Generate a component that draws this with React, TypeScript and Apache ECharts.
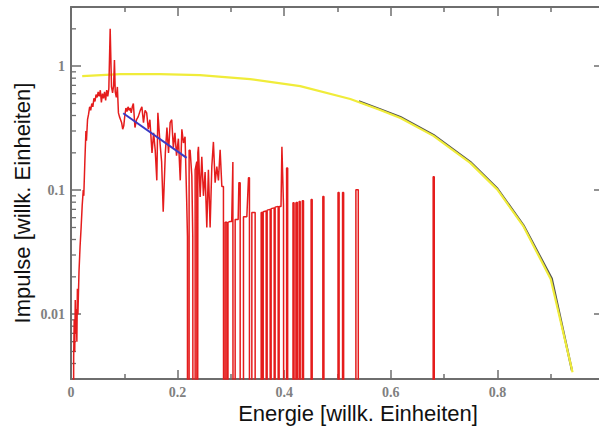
import React, { useEffect, useRef } from "react";
import * as echarts from "echarts";

// Measured spectrum (energy, counts); 0 = empty bin
const RED_RISE: [number, number][] = [
  [0.004, 0], [0.005, 0.0045], [0.006, 0.009], [0.007, 0.005], [0.008, 0.013],
  [0.009, 0.007], [0.010, 0.011], [0.011, 0.006], [0.012, 0.016], [0.013, 0.010],
  [0.015, 0.022], [0.017, 0.035], [0.019, 0.05], [0.021, 0.075], [0.023, 0.10],
  [0.024, 0.09], [0.026, 0.17], [0.028, 0.30], [0.029, 0.25], [0.031, 0.37],
  [0.033, 0.41], [0.035, 0.47], [0.037, 0.44], [0.039, 0.50], [0.041, 0.47],
  [0.043, 0.55], [0.045, 0.52], [0.047, 0.59], [0.049, 0.56], [0.051, 0.62],
  [0.053, 0.57], [0.055, 0.64], [0.057, 0.51], [0.059, 0.60], [0.061, 0.55],
  [0.063, 0.62], [0.065, 0.53], [0.067, 0.64], [0.069, 0.57], [0.071, 0.66],
  [0.0735, 2.0], [0.076, 0.68], [0.078, 0.61], [0.080, 0.70], [0.0815, 1.12],
  [0.083, 0.62], [0.085, 0.56], [0.087, 0.68], [0.089, 0.42], [0.091, 0.39],
  [0.093, 0.37], [0.095, 0.35], [0.097, 0.31], [0.099, 0.33], [0.101, 0.40],
  [0.103, 0.46], [0.105, 0.43], [0.107, 0.47], [0.109, 0.44], [0.111, 0.46],
  [0.113, 0.42], [0.115, 0.47], [0.117, 0.50], [0.120, 0.32], [0.123, 0.37],
  [0.126, 0.39], [0.130, 0.44], [0.133, 0.47], [0.136, 0.35], [0.139, 0.44],
  [0.142, 0.42], [0.145, 0.31], [0.148, 0.37], [0.152, 0.20], [0.155, 0.29],
  [0.158, 0.21], [0.161, 0.12], [0.163, 0.42], [0.167, 0.24], [0.170, 0.17],
  [0.173, 0.067], [0.177, 0.20], [0.180, 0.32], [0.183, 0.20], [0.186, 0.35],
  [0.189, 0.37], [0.192, 0.22], [0.195, 0.29], [0.198, 0.19], [0.2015, 0.26],
  [0.205, 0.12], [0.208, 0.31], [0.211, 0.24], [0.214, 0.27], [0.217, 0.084],
  [0.2185, 0.042], [0.2188, 0],
];

const RED_SPIKES: [number, number][] = [
  [0.2216, 0], [0.2216, 0.21], [0.2235, 0.21], [0.2267, 0.13], [0.2285, 0.042], [0.2297, 0.042], [0.2297, 0],
  [0.2329, 0], [0.2329, 0.146], [0.2360, 0.17], [0.2368, 0], [0.2380, 0], [0.2380, 0.2], [0.2391, 0.224],
  [0.2423, 0.088], [0.2454, 0.186], [0.2485, 0.09], [0.2516, 0.14], [0.2548, 0.05], [0.2578, 0.146],
  [0.2610, 0.05], [0.2642, 0.155], [0.2672, 0.245], [0.2704, 0.115], [0.2736, 0.155], [0.2766, 0.12],
  [0.2798, 0.212], [0.2830, 0.107], [0.2860, 0.107], [0.2870, 0],
  [0.2892, 0], [0.2892, 0.055], [0.2924, 0.055], [0.2924, 0],
  [0.2945, 0], [0.2945, 0.055], [0.2986, 0.056], [0.3015, 0.056], [0.3037, 0.169], [0.3048, 0.169], [0.3048, 0],
  [0.3080, 0], [0.3080, 0.058], [0.3136, 0.058], [0.3150, 0.115], [0.3174, 0.115], [0.3174, 0],
  [0.3236, 0], [0.3236, 0.061], [0.3299, 0.061], [0.3330, 0.126], [0.3348, 0.126], [0.3348, 0],
  [0.3393, 0], [0.3393, 0.066], [0.3455, 0.066], [0.3455, 0],
  [0.3568, 0], [0.3568, 0.066], [0.3590, 0.066], [0.3590, 0],
  [0.3606, 0], [0.3606, 0.067], [0.3662, 0.068], [0.3662, 0],
  [0.3680, 0], [0.3680, 0.069], [0.3737, 0.070], [0.3737, 0],
  [0.3755, 0], [0.3755, 0.071], [0.3812, 0.072], [0.3812, 0],
  [0.3830, 0], [0.3830, 0.073], [0.3887, 0.074], [0.3887, 0],
  [0.3905, 0], [0.3905, 0.074], [0.3940, 0.074], [0.3957, 0.224], [0.3970, 0.224], [0.3987, 0.075], [0.4000, 0.075], [0.4000, 0],
  [0.4045, 0], [0.4045, 0.151], [0.4065, 0.151], [0.4065, 0],
  [0.4165, 0], [0.4165, 0.079], [0.4185, 0.079], [0.4185, 0],
  [0.4220, 0], [0.4220, 0.079], [0.4245, 0.080], [0.4245, 0],
  [0.4280, 0], [0.4280, 0.081], [0.4300, 0.081], [0.4300, 0],
  [0.4340, 0], [0.4340, 0.082], [0.4362, 0.082], [0.4362, 0],
  [0.4505, 0], [0.4505, 0.084], [0.4525, 0.084], [0.4525, 0],
  [0.4725, 0], [0.4725, 0.089], [0.4745, 0.089], [0.4745, 0],
  [0.5010, 0], [0.5010, 0.0956], [0.5030, 0.0956], [0.5030, 0],
  [0.5095, 0], [0.5095, 0.0956], [0.5115, 0.0956], [0.5115, 0],
  [0.5345, 0], [0.5345, 0.101], [0.5390, 0.101], [0.5390, 0],
  [0.6795, 0], [0.6795, 0.128], [0.6815, 0.128], [0.6815, 0],
];

const FIT_LINE: [number, number][] = [[0.098, 0.417], [0.217, 0.182]];

const YELLOW_CURVE: [number, number][] = [
  [0.021, 0.831], [0.092, 0.862], [0.167, 0.862], [0.242, 0.847], [0.336, 0.786],
  [0.430, 0.691], [0.524, 0.543], [0.580, 0.443], [0.618, 0.382], [0.680, 0.274],
  [0.749, 0.166], [0.800, 0.101], [0.849, 0.051], [0.900, 0.0192], [0.941, 0.0034],
];

const BLACK_CURVE: [number, number][] = [
  [0.540, 0.52], [0.580, 0.450], [0.618, 0.389], [0.680, 0.279], [0.749, 0.169],
  [0.800, 0.103], [0.849, 0.052], [0.902, 0.0194], [0.940, 0.0035],
];

const Y_MINOR_TICKS = [
  0.004, 0.005, 0.006, 0.007, 0.008, 0.009,
  0.02, 0.03, 0.04, 0.05, 0.06, 0.07, 0.08, 0.09,
  0.2, 0.3, 0.4, 0.5, 0.6, 0.7, 0.8, 0.9, 2,
];

const X_TITLE = "Energie [willk. Einheiten]";
const Y_TITLE = "Impulse [willk. Einheiten]";

const EMPTY_BIN = 1e-9;
const AXIS_COLOR = "#6e6e6e";

const toPlot = (pts: [number, number][]) =>
  pts.map(([x, y]) => [x, y > 0 ? y : EMPTY_BIN]);

const yLabel = (v: number) => {
  const e = Math.log10(v);
  const r = Math.round(e);
  if (Math.abs(e - r) > 1e-6 || r > 0 || r < -2) return "";
  return r === 0 ? "1" : r === -1 ? "0.1" : "0.01";
};

export default function App() {
  const ref = useRef<HTMLDivElement>(null);

  useEffect(() => {
    if (!ref.current) return;
    const chart = echarts.init(ref.current, undefined, { renderer: "svg" });

    const xBase = {
      type: "value" as const,
      min: 0,
      max: 1,
      interval: 0.2,
      axisLine: { show: true, onZero: false, lineStyle: { color: AXIS_COLOR, width: 2 } },
      axisTick: { show: true, inside: true, length: 9, lineStyle: { color: AXIS_COLOR, width: 1.5 } },
      minorTick: { show: true, splitNumber: 2, length: 5, lineStyle: { color: AXIS_COLOR, width: 1.5 } },
      splitLine: { show: false },
      minorSplitLine: { show: false },
    };
    const yBase = {
      type: "log" as const,
      logBase: 10,
      min: 0.003,
      max: 3,
      axisLine: { show: true, onZero: false, lineStyle: { color: AXIS_COLOR, width: 2 } },
      axisTick: { show: true, inside: true, length: 10, lineStyle: { color: AXIS_COLOR, width: 1.5 } },
      splitLine: { show: false },
      minorTick: { show: false },
    };

    const labelStyle = {
      color: "#808080",
      fontFamily: "Liberation Serif",
      fontSize: 14,
      fontWeight: "bold" as const,
      margin: 6,
    };

    chart.setOption({
      animation: false,
      backgroundColor: "#ffffff",
      grid: { left: 71, top: 7, right: -5, bottom: 55, outerBoundsMode: "none", containLabel: false },
      xAxis: [
        {
          ...xBase,
          position: "bottom",
          axisLabel: {
            ...labelStyle,
            formatter: (v: number) => (v > 0.9 ? "" : String(v)),
          },
        },
        { ...xBase, position: "top", axisLabel: { show: false } },
      ],
      yAxis: [
        {
          ...yBase,
          position: "left",
          axisLabel: { ...labelStyle, formatter: yLabel },
        },
        { ...yBase, position: "right", axisLabel: { show: false } },
      ],
      graphic: [
        {
          type: "text",
          x: 358,
          y: 413,
          style: {
            text: X_TITLE,
            font: '22px "Liberation Sans"',
            fill: "#111",
            align: "center",
            verticalAlign: "middle",
            textAlign: "center",
            textVerticalAlign: "middle",
          },
        },
        {
          type: "text",
          x: 22,
          y: 203,
          rotation: Math.PI / 2,
          style: {
            text: Y_TITLE,
            font: '22px "Liberation Sans"',
            fill: "#111",
            align: "center",
            verticalAlign: "middle",
            textAlign: "center",
            textVerticalAlign: "middle",
          },
        },
      ],
      series: [
        {
          type: "custom",
          xAxisIndex: 0,
          yAxisIndex: 0,
          silent: true,
          clip: false,
          data: Y_MINOR_TICKS.map((v) => [0, v]),
          renderItem: (_p: any, api: any) => {
            const v = api.value(1);
            const pl = api.coord([0, v]);
            const pr = api.coord([1, v]);
            return {
              type: "group",
              children: [
                { type: "line", shape: { x1: pl[0], y1: pl[1], x2: pl[0] + 5, y2: pl[1] }, style: { stroke: AXIS_COLOR, lineWidth: 1.3 } },
                { type: "line", shape: { x1: pr[0], y1: pr[1], x2: pr[0] - 5, y2: pr[1] }, style: { stroke: AXIS_COLOR, lineWidth: 1.3 } },
              ],
            };
          },
        },
        {
          type: "line",
          data: BLACK_CURVE,
          showSymbol: false,
          symbol: "none",
          lineStyle: { color: "#333", width: 2.2, opacity: 0.85 },
          silent: true,
        },
        {
          type: "line",
          data: YELLOW_CURVE,
          showSymbol: false,
          symbol: "none",
          lineStyle: { color: "#f0ec3a", width: 2.2 },
          silent: true,
        },
        {
          type: "line",
          data: toPlot(RED_RISE.concat(RED_SPIKES)),
          showSymbol: false,
          symbol: "none",
          clip: true,
          lineStyle: { color: "#e51c1c", width: 1.5 },
          silent: true,
        },
        {
          type: "line",
          data: FIT_LINE,
          showSymbol: false,
          symbol: "none",
          lineStyle: { color: "#3a3ac4", width: 2 },
          silent: true,
        },
      ],
    });

    return () => chart.dispose();
  }, []);

  return (
    <div
      ref={ref}
      style={{ position: "absolute", left: 0, top: 0, width: 599, height: 434, background: "#fff" }}
    />
  );
}
